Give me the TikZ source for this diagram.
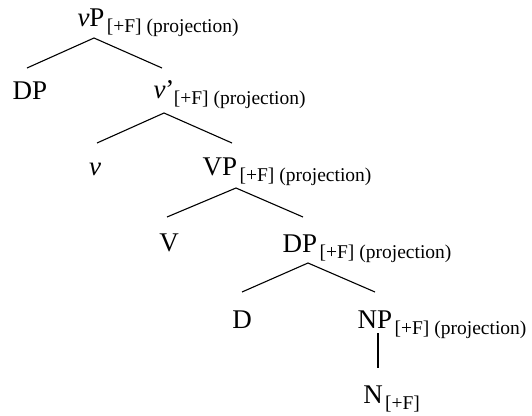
\documentclass[tikz,border=0pt]{standalone}
\usepackage{fontspec}
\setmainfont{Liberation Serif}
\usetikzlibrary{positioning}

\tikzset{
	cat/.style={font=\fontsize{27}{30}\selectfont,inner sep=0pt,anchor=base},
	feat/.style={font=\fontsize{19.5}{22}\selectfont,inner sep=0pt,anchor=base west},
	branch/.style={line width=1.1pt}
}

\begin{document}
\begin{tikzpicture}[x=1pt,y=-1pt]
		\useasboundingbox (0,0) rectangle (532,415);
		
		% 分枝端点
		\coordinate (vPtop) at (94,38);
		\coordinate (DPa) at (27,68);
		\coordinate (vbara) at (162,68);
		\coordinate (vbartop) at (164,113);
		\coordinate (va) at (97,143);
		\coordinate (VPa) at (232,143);
		\coordinate (VPtop) at (236,188);
		\coordinate (Va) at (167,217);
		\coordinate (DPb) at (303,217);
		\coordinate (DPtop) at (308,263);
		\coordinate (Da) at (242,292);
		\coordinate (NPa) at (375,292);
		\coordinate (NPtop) at (378,333);
		\coordinate (Na) at (378,368);
		
		% 节点
		\node[cat] (vP) at (91,27) {\textit{v}P};
		\node[feat] (vPf) at ([xshift=2pt,yshift=-5pt]vP.base east) {[+F] (projection)};
		\node[cat] (DPspec) at (30,99) {DP};
		\node[cat] (vbar) at (164,98) {\textit{v}’};
		\node[feat] (vbarf) at ([xshift=-1pt,yshift=-6pt]vbar.base east) {[+F] (projection)};
		\node[cat] (v) at (95,175) {\textit{v}};
		\node[cat] (VP) at (220,175) {VP};
		\node[feat] (VPf) at ([xshift=2pt,yshift=-6pt]VP.base east) {[+F] (projection)};
		\node[cat] (V) at (169,251) {V};
		\node[cat] (DP) at (300,252) {DP};
		\node[feat] (DPf) at ([xshift=2pt,yshift=-6pt]DP.base east) {[+F] (projection)};
		\node[cat] (D) at (242,328) {D};
		\node[cat] (NP) at (375,328) {NP};
		\node[feat] (NPf) at ([xshift=2pt,yshift=-6pt]NP.base east) {[+F] (projection)};
		\node[cat] (N) at (373,403) {N};
		\node[feat] (Nf) at ([xshift=2pt,yshift=-6pt]N.base east) {[+F]};
		
		% 分枝
		\draw[branch] (DPa) -- (vPtop) -- (vbara);
		\draw[branch] (va) -- (vbartop) -- (VPa);
		\draw[branch] (Va) -- (VPtop) -- (DPb);
		\draw[branch] (Da) -- (DPtop) -- (NPa);
		\draw[branch] (NPtop) -- (Na);
	\end{tikzpicture}
\end{document}
